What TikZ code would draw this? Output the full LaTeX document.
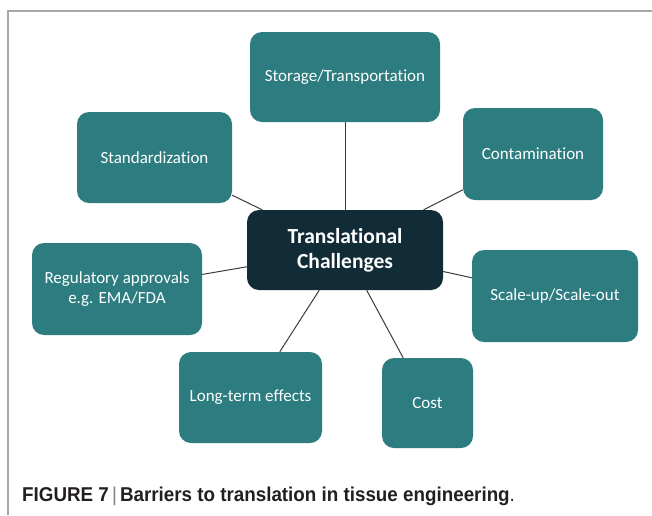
\documentclass[tikz,border=0pt]{standalone}
\usepackage{fontspec}
\setmainfont{Carlito}[Ligatures={NoCommon}]
\newfontfamily\capfont{Liberation Sans}
\definecolor{teal1}{HTML}{2C7C80}
\definecolor{dark1}{HTML}{122C37}
\definecolor{lineg}{HTML}{3C3C3C}
\definecolor{frameg}{HTML}{A8A8A8}
\definecolor{capc}{HTML}{231F20}
\tikzset{
  tbox/.style={draw=none, fill=teal1, rounded corners=12pt, text=white,
    font=\fontsize{17}{20}\selectfont, align=center, inner sep=0pt},
  cbox/.style={draw=none, fill=dark1, rounded corners=12pt, text=white,
    font=\bfseries\fontsize{21.5}{25}\selectfont, align=center, inner sep=0pt},
  link/.style={draw=lineg, line width=1pt}
}
\begin{document}
\begin{tikzpicture}[x=1pt,y=-1pt]
\useasboundingbox (0,0) rectangle (652,515);
\fill[white] (0,0) rectangle (652,515);
\draw[frameg, line width=1.5pt] (8,515) -- (8,11) -- (652,11);

\node[cbox, minimum width=196pt, minimum height=80pt] (ctr) at (345,250) {Translational\\Challenges};
\node[tbox, minimum width=190pt, minimum height=90pt] (stor) at (345,77) {Storage/Transportation};
\node[tbox, minimum width=155pt, minimum height=91pt] (stand) at (154.5,157.5) {Standardization};
\node[tbox, minimum width=140pt, minimum height=92pt] (cont) at (533,154) {Contamination};
\node[tbox, minimum width=170pt, minimum height=92pt] (reg) at (117,289) {Regulatory approvals\\e.g. EMA/FDA};
\node[tbox, minimum width=166pt, minimum height=92pt] (scal) at (555,296) {Scale-up/Scale-out};
\node[tbox, minimum width=143pt, minimum height=91pt] (long) at (250.5,397.5) {Long-term effects};
\node[tbox, minimum width=91pt, minimum height=90pt] (cost) at (427.5,403) {Cost};

\draw[link] (stor) -- (ctr);
\draw[link] (stand) -- (ctr);
\draw[link] (cont) -- (ctr);
\draw[link] (reg) -- (ctr);
\draw[link] (scal) -- (ctr);
\draw[link] (long) -- (ctr);
\draw[link] (cost) -- (ctr);

\node[anchor=base west, inner sep=0pt, text=capc, font=\capfont\fontsize{20}{22}\selectfont] (cap) at (22,501)
  {\scalebox{0.94}[1]{\textbf{FIGURE 7}\,{\color{gray}|}\,\textbf{Barriers to translation in tissue engineering}.}};
\end{tikzpicture}
\end{document}
